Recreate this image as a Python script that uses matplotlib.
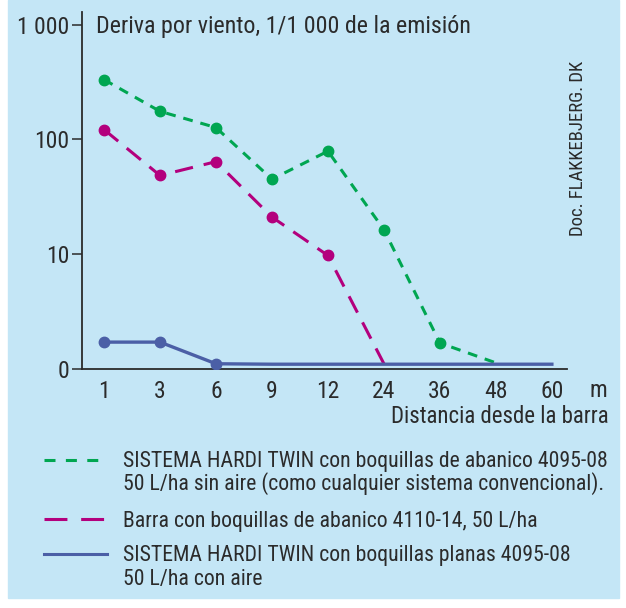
import matplotlib
matplotlib.use("Agg")
import matplotlib.pyplot as plt
from matplotlib.lines import Line2D
from matplotlib.patches import Rectangle

plt.rcParams['font.family'] = ['Roboto Condensed', 'Liberation Sans',
                               'DejaVu Sans']

# distancia desde la barra (m), eje categorico
distancias = ['1', '3', '6', '9', '12', '24', '36', '48', '60']

# deriva, 1/1000 de la emision (escala log, "0" = 1)
twin_abanico = [333, 176, 127, 45, 79, 16.3, 1.67, 1.12]
barra_abanico = [122, 48.5, 64, 21, 9.7, 1.1]
twin_planas = [1.7, 1.7, 1.1, 1.09, 1.09, 1.09, 1.09, 1.09, 1.09]

y_ticks = [1, 10, 100, 1000]
y_labels = ['0', '10', '100', '1 000']

verde = '#00a651'
magenta = '#b3007d'
azul = '#4b5fa6'
fondo = '#c4e6f6'
gris = '#2b2b2b'

W, H = 626, 608


def fx(px):
    return px / W


def fy(py):
    return 1 - py / H


fig = plt.figure(figsize=(6.26, 6.08), dpi=100)
fig.patch.set_facecolor('white')
fig.add_artist(Rectangle((fx(8), fy(598)), 611 / W, 598 / H,
                         transform=fig.transFigure, color=fondo, zorder=0))

ax = fig.add_axes([fx(82), fy(368.5), 485 / W, 356.5 / H])
ax.set_facecolor('none')

x = list(range(len(distancias)))

ax.plot(x[:len(twin_planas)], twin_planas, color=azul, lw=2.4, zorder=3)
ax.plot(x[:3], twin_planas[:3], 'o', color=azul, ms=7.5, zorder=4)

ax.plot(x[:len(barra_abanico)], barra_abanico, color=magenta, lw=2.2,
        dashes=(6, 3.6), zorder=2)
ax.plot(x[:5], barra_abanico[:5], 'o', color=magenta, ms=7.5, zorder=4)

ax.plot(x[:len(twin_abanico)], twin_abanico, color=verde, lw=2.2,
        dashes=(3.2, 2.6), zorder=2)
ax.plot(x[:7], twin_abanico[:7], 'o', color=verde, ms=7.5, zorder=4)

ax.set_yscale('log')
ax.set_ylim(1, 10 ** 3.113)
ax.set_xlim(-0.393, 8.27)
ax.set_yticks(y_ticks)
ax.set_yticklabels(y_labels)
ax.minorticks_off()
ax.set_xticks(x)
ax.set_xticklabels(distancias)

for s in ['top', 'right']:
    ax.spines[s].set_visible(False)
for s in ['left', 'bottom']:
    ax.spines[s].set_color(gris)
    ax.spines[s].set_linewidth(1.3)

ax.tick_params(axis='y', length=7, width=1.1, color=gris, pad=2,
               labelsize=17, labelcolor=gris)
ax.tick_params(axis='x', length=0, pad=8, labelsize=17, labelcolor=gris)

fig.text(fx(598), fy(397), 'm', ha='center', va='baseline',
         fontsize=17, color=gris)
fig.text(fx(609), fy(423), 'Distancia desde la barra', ha='right',
         va='baseline', fontsize=16.5, color=gris)
fig.text(fx(96), fy(33.5), 'Deriva por viento, 1/1 000 de la emisión',
         ha='left', va='baseline', fontsize=17.3, color=gris)
fig.text(fx(578), fy(148.5), 'Doc. FLAKKEBJERG. DK', rotation=90,
         ha='center', va='center', fontsize=13.5, color=gris)

# leyenda: color, trazo, y de la linea, renglones (y de la base)
leyenda = [
    (verde, (3.6, 3.4), 459.5,
     [('SISTEMA HARDI TWIN con boquillas de abanico 4095-08', 467.5),
      ('50 L/ha sin aire (como cualquier sistema convencional).', 489.5)]),
    (magenta, (7.5, 4.5), 519,
     [('Barra con boquillas de abanico 4110-14, 50 L/ha', 526.5)]),
    (azul, None, 554,
     [('SISTEMA HARDI TWIN con boquillas planas 4095-08', 561.5),
      ('50 L/ha con aire', 585)]),
]
for color, dash, yy, renglones in leyenda:
    ln = Line2D([fx(44), fx(107)], [fy(yy), fy(yy)],
                transform=fig.transFigure, color=color, lw=2.2)
    if dash:
        ln.set_dashes(dash)
    fig.add_artist(ln)
    for texto, yb in renglones:
        fig.text(fx(123), fy(yb), texto, ha='left', va='baseline',
                 fontsize=15.7, color=gris)

fig.savefig('out.png', dpi=100, facecolor=fig.get_facecolor())
